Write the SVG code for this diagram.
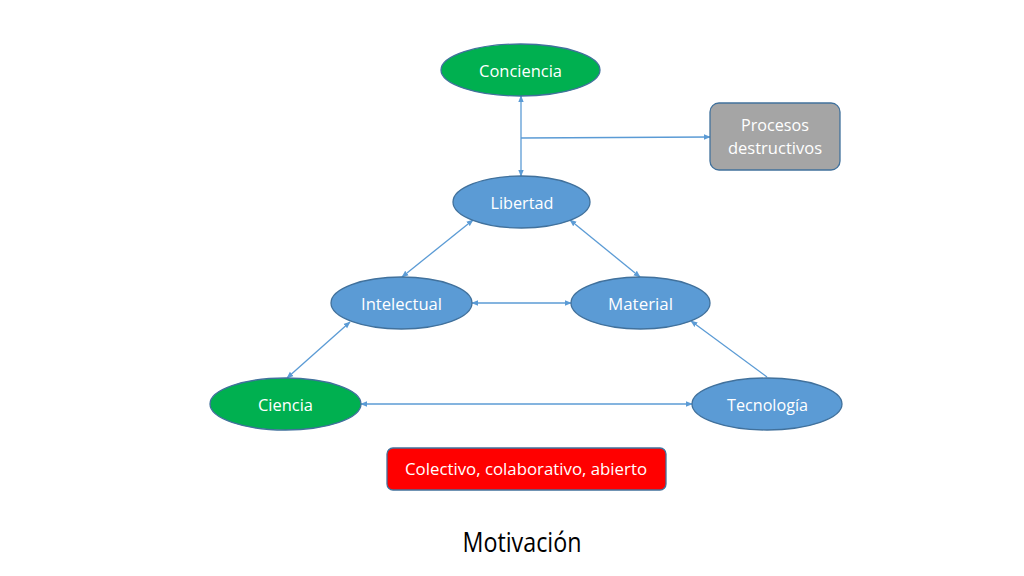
<svg xmlns="http://www.w3.org/2000/svg" width="1024" height="576" viewBox="0 0 1024 576">
<defs>
<marker id="arr" viewBox="0 0 10 10" refX="9" refY="5" markerWidth="7" markerHeight="7" orient="auto-start-reverse" markerUnits="userSpaceOnUse">
<path d="M0,1 L10,5 L0,9 z" fill="#5B9BD5"/>
</marker>
<style>
.e-blue{fill:#5B9BD5;stroke:#41719C;stroke-width:1.3}
.e-green{fill:#00B050;stroke:#41719C;stroke-width:1.3}
.box-grey{fill:#A5A5A5;stroke:#41719C;stroke-width:1.3}
.box-red{fill:#FF0000;stroke:#41719C;stroke-width:1.3}
.lbl{font-family:"Open Sans","Noto Sans","Liberation Sans",sans-serif;font-size:17px;fill:#FFFFFF;text-anchor:middle}
.title{font-family:"Open Sans","Noto Sans","Liberation Sans",sans-serif;font-size:27px;fill:#000000;text-anchor:middle}
.c{fill:none;stroke:#5B9BD5;stroke-width:1.3}
</style>
</defs>
<rect width="1024" height="576" fill="#FFFFFF"/>
<g id="connectors">
<line class="c" x1="521" y1="96" x2="521" y2="176" marker-start="url(#arr)" marker-end="url(#arr)"/>
<line class="c" x1="521" y1="138" x2="710" y2="137" marker-end="url(#arr)"/>
<line class="c" x1="473" y1="220" x2="402" y2="277" marker-start="url(#arr)" marker-end="url(#arr)"/>
<line class="c" x1="570" y1="220" x2="640" y2="277" marker-start="url(#arr)" marker-end="url(#arr)"/>
<line class="c" x1="472" y1="303" x2="571" y2="303" marker-start="url(#arr)" marker-end="url(#arr)"/>
<line class="c" x1="350" y1="322" x2="287" y2="378" marker-start="url(#arr)" marker-end="url(#arr)"/>
<line class="c" x1="767" y1="377" x2="691" y2="321" marker-end="url(#arr)"/>
<line class="c" x1="361" y1="404" x2="692" y2="404" marker-start="url(#arr)" marker-end="url(#arr)"/>
</g>
<g id="conciencia">
<ellipse class="e-green" cx="520.5" cy="70" rx="79.5" ry="26"/>
<text class="lbl" x="520.5" y="76.5" textLength="83" lengthAdjust="spacingAndGlyphs">Conciencia</text>
</g>
<g id="procesos">
<rect class="box-grey" x="710" y="103" width="130" height="67" rx="9"/>
<text class="lbl" x="775" y="131" textLength="68" lengthAdjust="spacingAndGlyphs">Procesos</text>
<text class="lbl" x="775" y="154" textLength="94" lengthAdjust="spacingAndGlyphs">destructivos</text>
</g>
<g id="libertad">
<ellipse class="e-blue" cx="521.5" cy="202" rx="68.5" ry="26"/>
<text class="lbl" x="522" y="208.5" textLength="63" lengthAdjust="spacingAndGlyphs">Libertad</text>
</g>
<g id="intelectual">
<ellipse class="e-blue" cx="401.5" cy="303" rx="70.5" ry="26"/>
<text class="lbl" x="401.5" y="309.5" textLength="81" lengthAdjust="spacingAndGlyphs">Intelectual</text>
</g>
<g id="material">
<ellipse class="e-blue" cx="640.5" cy="303" rx="69.5" ry="26"/>
<text class="lbl" x="640.5" y="309.5" textLength="65" lengthAdjust="spacingAndGlyphs">Material</text>
</g>
<g id="ciencia">
<ellipse class="e-green" cx="285.5" cy="404" rx="75.5" ry="26"/>
<text class="lbl" x="285.5" y="410.5" textLength="55" lengthAdjust="spacingAndGlyphs">Ciencia</text>
</g>
<g id="tecnologia">
<ellipse class="e-blue" cx="767" cy="404" rx="75" ry="26"/>
<text class="lbl" x="767.5" y="410.5" textLength="81" lengthAdjust="spacingAndGlyphs">Tecnología</text>
</g>
<g id="colectivo">
<rect class="box-red" x="387" y="448" width="279" height="42" rx="6"/>
<text class="lbl" x="526" y="475" textLength="242" lengthAdjust="spacingAndGlyphs">Colectivo, colaborativo, abierto</text>
</g>
<g id="motivacion">
<text class="title" x="522" y="552" textLength="119" lengthAdjust="spacingAndGlyphs">Motivación</text>
</g>
</svg>
